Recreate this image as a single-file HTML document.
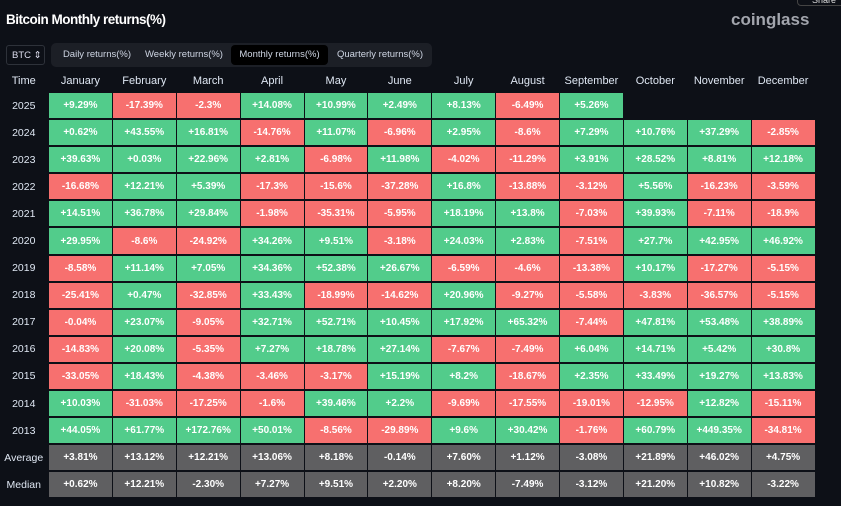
<!DOCTYPE html>
<html><head><meta charset="utf-8"><style>
*{margin:0;padding:0;box-sizing:border-box}
body{width:841px;height:506px;background:#0d1017;font-family:"Liberation Sans",sans-serif;position:relative;overflow:hidden;color:#fff}
.title{position:absolute;left:6px;top:12px;font-size:13.5px;font-weight:bold;letter-spacing:-0.5px}
.logo{position:absolute;left:731px;top:10px;font-size:17px;font-weight:bold;color:#a2a5ad}
.share{position:absolute;left:797px;top:-8px;width:50px;height:14px;border:1px solid #444;border-radius:4px;font-size:9px;color:#ddd;padding-left:14px;padding-top:2px}
.btc{position:absolute;left:6px;top:45px;width:39px;height:20px;border:1px solid #2e323a;border-radius:3px;font-size:9.5px;color:#dde;padding:4px 0 0 5px}
.tabs{position:absolute;left:51px;top:43px;width:381px;height:24px;background:#1c1f26;border-radius:5px}
.tab{position:absolute;top:2px;height:20px;font-size:9.5px;color:#cfd6e4;line-height:20px;text-align:center}
.tab.a{background:#000;border-radius:4px}
table{position:absolute;left:-1.5px;top:69px;border-collapse:separate;border-spacing:1.6px 2px;table-layout:fixed;width:817px}
td{height:25.1px;text-align:center;font-size:10px;font-weight:bold;color:#fff;padding:0}
th{height:20px;font-size:11px;font-weight:normal;color:#dfe7f3;text-align:center}
td.y{font-weight:normal;color:#dfe7f3;font-size:10.5px}
.g{background:#52cc8b}.r{background:#f7706f}.m{background:#5f5f61}
</style></head><body>
<div class="title">Bitcoin Monthly returns(%)</div>
<div class="logo">coinglass</div>
<div class="share">Share</div>
<div class="btc">BTC ⇕</div>
<div class="tabs">
<div class="tab" style="left:4px;width:84px">Daily returns(%)</div>
<div class="tab" style="left:90px;width:86px">Weekly returns(%)</div>
<div class="tab a" style="left:180px;width:97px">Monthly returns(%)</div>
<div class="tab" style="left:280px;width:98px">Quarterly returns(%)</div>
</div>
<table>
<colgroup><col style="width:48.5px"><col span="12"></colgroup>
<tr><th>Time</th><th>January</th><th>February</th><th>March</th><th>April</th><th>May</th><th>June</th><th>July</th><th>August</th><th>September</th><th>October</th><th>November</th><th>December</th></tr>
<tr><td class="y">2025</td><td class="g">+9.29%</td><td class="r">-17.39%</td><td class="r">-2.3%</td><td class="g">+14.08%</td><td class="g">+10.99%</td><td class="g">+2.49%</td><td class="g">+8.13%</td><td class="r">-6.49%</td><td class="g">+5.26%</td><td></td><td></td><td></td></tr>
<tr><td class="y">2024</td><td class="g">+0.62%</td><td class="g">+43.55%</td><td class="g">+16.81%</td><td class="r">-14.76%</td><td class="g">+11.07%</td><td class="r">-6.96%</td><td class="g">+2.95%</td><td class="r">-8.6%</td><td class="g">+7.29%</td><td class="g">+10.76%</td><td class="g">+37.29%</td><td class="r">-2.85%</td></tr>
<tr><td class="y">2023</td><td class="g">+39.63%</td><td class="g">+0.03%</td><td class="g">+22.96%</td><td class="g">+2.81%</td><td class="r">-6.98%</td><td class="g">+11.98%</td><td class="r">-4.02%</td><td class="r">-11.29%</td><td class="g">+3.91%</td><td class="g">+28.52%</td><td class="g">+8.81%</td><td class="g">+12.18%</td></tr>
<tr><td class="y">2022</td><td class="r">-16.68%</td><td class="g">+12.21%</td><td class="g">+5.39%</td><td class="r">-17.3%</td><td class="r">-15.6%</td><td class="r">-37.28%</td><td class="g">+16.8%</td><td class="r">-13.88%</td><td class="r">-3.12%</td><td class="g">+5.56%</td><td class="r">-16.23%</td><td class="r">-3.59%</td></tr>
<tr><td class="y">2021</td><td class="g">+14.51%</td><td class="g">+36.78%</td><td class="g">+29.84%</td><td class="r">-1.98%</td><td class="r">-35.31%</td><td class="r">-5.95%</td><td class="g">+18.19%</td><td class="g">+13.8%</td><td class="r">-7.03%</td><td class="g">+39.93%</td><td class="r">-7.11%</td><td class="r">-18.9%</td></tr>
<tr><td class="y">2020</td><td class="g">+29.95%</td><td class="r">-8.6%</td><td class="r">-24.92%</td><td class="g">+34.26%</td><td class="g">+9.51%</td><td class="r">-3.18%</td><td class="g">+24.03%</td><td class="g">+2.83%</td><td class="r">-7.51%</td><td class="g">+27.7%</td><td class="g">+42.95%</td><td class="g">+46.92%</td></tr>
<tr><td class="y">2019</td><td class="r">-8.58%</td><td class="g">+11.14%</td><td class="g">+7.05%</td><td class="g">+34.36%</td><td class="g">+52.38%</td><td class="g">+26.67%</td><td class="r">-6.59%</td><td class="r">-4.6%</td><td class="r">-13.38%</td><td class="g">+10.17%</td><td class="r">-17.27%</td><td class="r">-5.15%</td></tr>
<tr><td class="y">2018</td><td class="r">-25.41%</td><td class="g">+0.47%</td><td class="r">-32.85%</td><td class="g">+33.43%</td><td class="r">-18.99%</td><td class="r">-14.62%</td><td class="g">+20.96%</td><td class="r">-9.27%</td><td class="r">-5.58%</td><td class="r">-3.83%</td><td class="r">-36.57%</td><td class="r">-5.15%</td></tr>
<tr><td class="y">2017</td><td class="r">-0.04%</td><td class="g">+23.07%</td><td class="r">-9.05%</td><td class="g">+32.71%</td><td class="g">+52.71%</td><td class="g">+10.45%</td><td class="g">+17.92%</td><td class="g">+65.32%</td><td class="r">-7.44%</td><td class="g">+47.81%</td><td class="g">+53.48%</td><td class="g">+38.89%</td></tr>
<tr><td class="y">2016</td><td class="r">-14.83%</td><td class="g">+20.08%</td><td class="r">-5.35%</td><td class="g">+7.27%</td><td class="g">+18.78%</td><td class="g">+27.14%</td><td class="r">-7.67%</td><td class="r">-7.49%</td><td class="g">+6.04%</td><td class="g">+14.71%</td><td class="g">+5.42%</td><td class="g">+30.8%</td></tr>
<tr><td class="y">2015</td><td class="r">-33.05%</td><td class="g">+18.43%</td><td class="r">-4.38%</td><td class="r">-3.46%</td><td class="r">-3.17%</td><td class="g">+15.19%</td><td class="g">+8.2%</td><td class="r">-18.67%</td><td class="g">+2.35%</td><td class="g">+33.49%</td><td class="g">+19.27%</td><td class="g">+13.83%</td></tr>
<tr><td class="y">2014</td><td class="g">+10.03%</td><td class="r">-31.03%</td><td class="r">-17.25%</td><td class="r">-1.6%</td><td class="g">+39.46%</td><td class="g">+2.2%</td><td class="r">-9.69%</td><td class="r">-17.55%</td><td class="r">-19.01%</td><td class="r">-12.95%</td><td class="g">+12.82%</td><td class="r">-15.11%</td></tr>
<tr><td class="y">2013</td><td class="g">+44.05%</td><td class="g">+61.77%</td><td class="g">+172.76%</td><td class="g">+50.01%</td><td class="r">-8.56%</td><td class="r">-29.89%</td><td class="g">+9.6%</td><td class="g">+30.42%</td><td class="r">-1.76%</td><td class="g">+60.79%</td><td class="g">+449.35%</td><td class="r">-34.81%</td></tr>
<tr><td class="y">Average</td><td class="m">+3.81%</td><td class="m">+13.12%</td><td class="m">+12.21%</td><td class="m">+13.06%</td><td class="m">+8.18%</td><td class="m">-0.14%</td><td class="m">+7.60%</td><td class="m">+1.12%</td><td class="m">-3.08%</td><td class="m">+21.89%</td><td class="m">+46.02%</td><td class="m">+4.75%</td></tr>
<tr><td class="y">Median</td><td class="m">+0.62%</td><td class="m">+12.21%</td><td class="m">-2.30%</td><td class="m">+7.27%</td><td class="m">+9.51%</td><td class="m">+2.20%</td><td class="m">+8.20%</td><td class="m">-7.49%</td><td class="m">-3.12%</td><td class="m">+21.20%</td><td class="m">+10.82%</td><td class="m">-3.22%</td></tr>
</table>
</body></html>
